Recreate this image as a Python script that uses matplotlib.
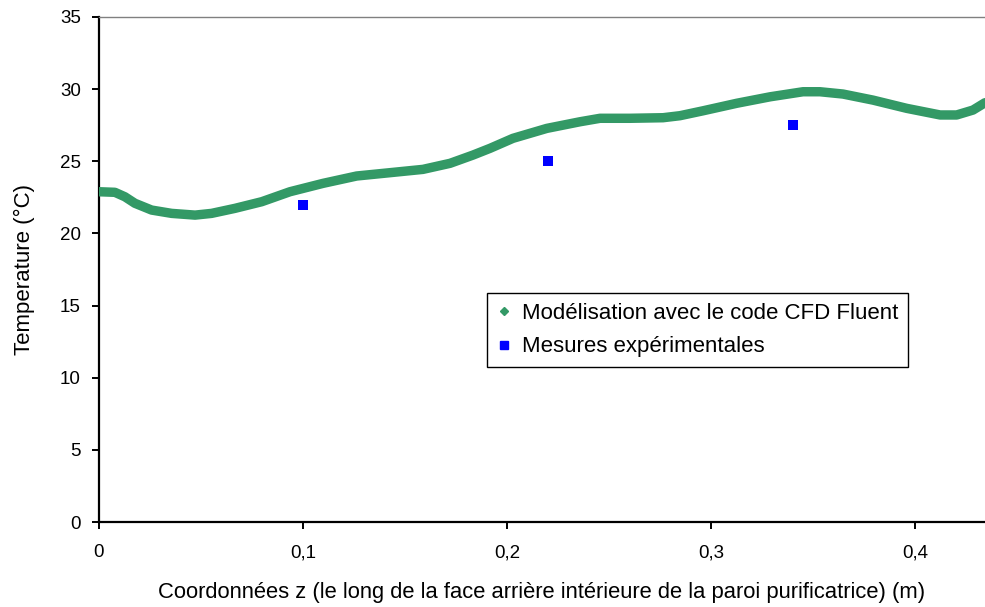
import matplotlib
matplotlib.use("Agg")
import matplotlib.pyplot as plt
from matplotlib.ticker import FuncFormatter, MultipleLocator

plt.rcParams['font.family'] = ['Liberation Sans', 'DejaVu Sans']

# CFD simulated temperature along z (m) -> temperature (°C)
z_cfd = [0.0, 0.0078, 0.0127, 0.0176, 0.0258, 0.0356, 0.0471, 0.0552, 0.0667,
         0.0798, 0.0936, 0.1098, 0.1263, 0.1426, 0.1588, 0.1721, 0.1833, 0.1917,
         0.2029, 0.2195, 0.2358, 0.2456, 0.2603, 0.2765, 0.2848, 0.2961, 0.3126,
         0.3290, 0.3451, 0.3534, 0.3647, 0.3794, 0.3959, 0.4123, 0.4204, 0.4284,
         0.4343]
t_cfd = [22.89, 22.85, 22.54, 22.09, 21.62, 21.39, 21.27, 21.39, 21.74,
         22.20, 22.89, 23.47, 23.98, 24.21, 24.44, 24.86, 25.43, 25.90,
         26.59, 27.28, 27.74, 27.98, 27.98, 28.02, 28.16, 28.50, 29.02,
         29.47, 29.82, 29.82, 29.66, 29.24, 28.67, 28.21, 28.21, 28.55,
         29.06]

# Experimental measurements
z_exp = [0.10, 0.22, 0.34]
t_exp = [22.0, 25.0, 27.5]

green = '#339966'
blue = '#0000FF'

fig = plt.figure(figsize=(9.85, 6.07), dpi=100)
ax = fig.add_axes([0.1005, 0.140, 0.8995, 0.832])

ax.plot(z_cfd, t_cfd, color=green, lw=6.8, solid_joinstyle='round',
        solid_capstyle='round', zorder=3)
ax.plot(z_exp, t_exp, linestyle='none', marker='s', ms=6.5, color=blue,
        markeredgewidth=0, zorder=4)

ax.set_xlim(0, 0.4343)
ax.set_ylim(0, 35)
ax.xaxis.set_major_locator(MultipleLocator(0.1))
ax.yaxis.set_major_locator(MultipleLocator(5))
ax.xaxis.set_major_formatter(FuncFormatter(
    lambda v, p: '0' if abs(v) < 1e-9 else f'{v:.1f}'.replace('.', ',')))
ax.yaxis.set_major_formatter(FuncFormatter(lambda v, p: f'{v:.0f}'))

for s in ('left', 'bottom'):
    ax.spines[s].set_color('black')
    ax.spines[s].set_linewidth(1.6)
ax.spines['top'].set_color('#808080')
ax.spines['top'].set_linewidth(1.0)
ax.spines['right'].set_visible(False)

ax.tick_params(axis='both', direction='out', length=5, width=1.4,
               labelsize=13.5, colors='black')
ax.tick_params(axis='y', pad=8)
ax.tick_params(axis='x', pad=11)

ax.set_xlabel('Coordonnées z (le long de la face arrière intérieure de la paroi purificatrice) (m)',
              fontsize=15.8, labelpad=15)
ax.set_ylabel('Temperature (°C)', fontsize=16, labelpad=18)

h1 = ax.plot([], [], linestyle='none', marker='D', ms=4.5, color=green)[0]
h2 = ax.plot([], [], linestyle='none', marker='s', ms=5.5, color=blue)[0]
leg = ax.legend([h1, h2], ['Modélisation avec le code CFD Fluent', 'Mesures expérimentales'],
                loc='upper left', bbox_to_anchor=(0.438, 0.453), fontsize=16,
                fancybox=False, frameon=True, edgecolor='black', framealpha=1,
                handlelength=0.6, handletextpad=0.5, borderpad=0.45,
                labelspacing=0.55, borderaxespad=0)
leg.get_frame().set_linewidth(1.0)

fig.savefig('out.png', dpi=100)
